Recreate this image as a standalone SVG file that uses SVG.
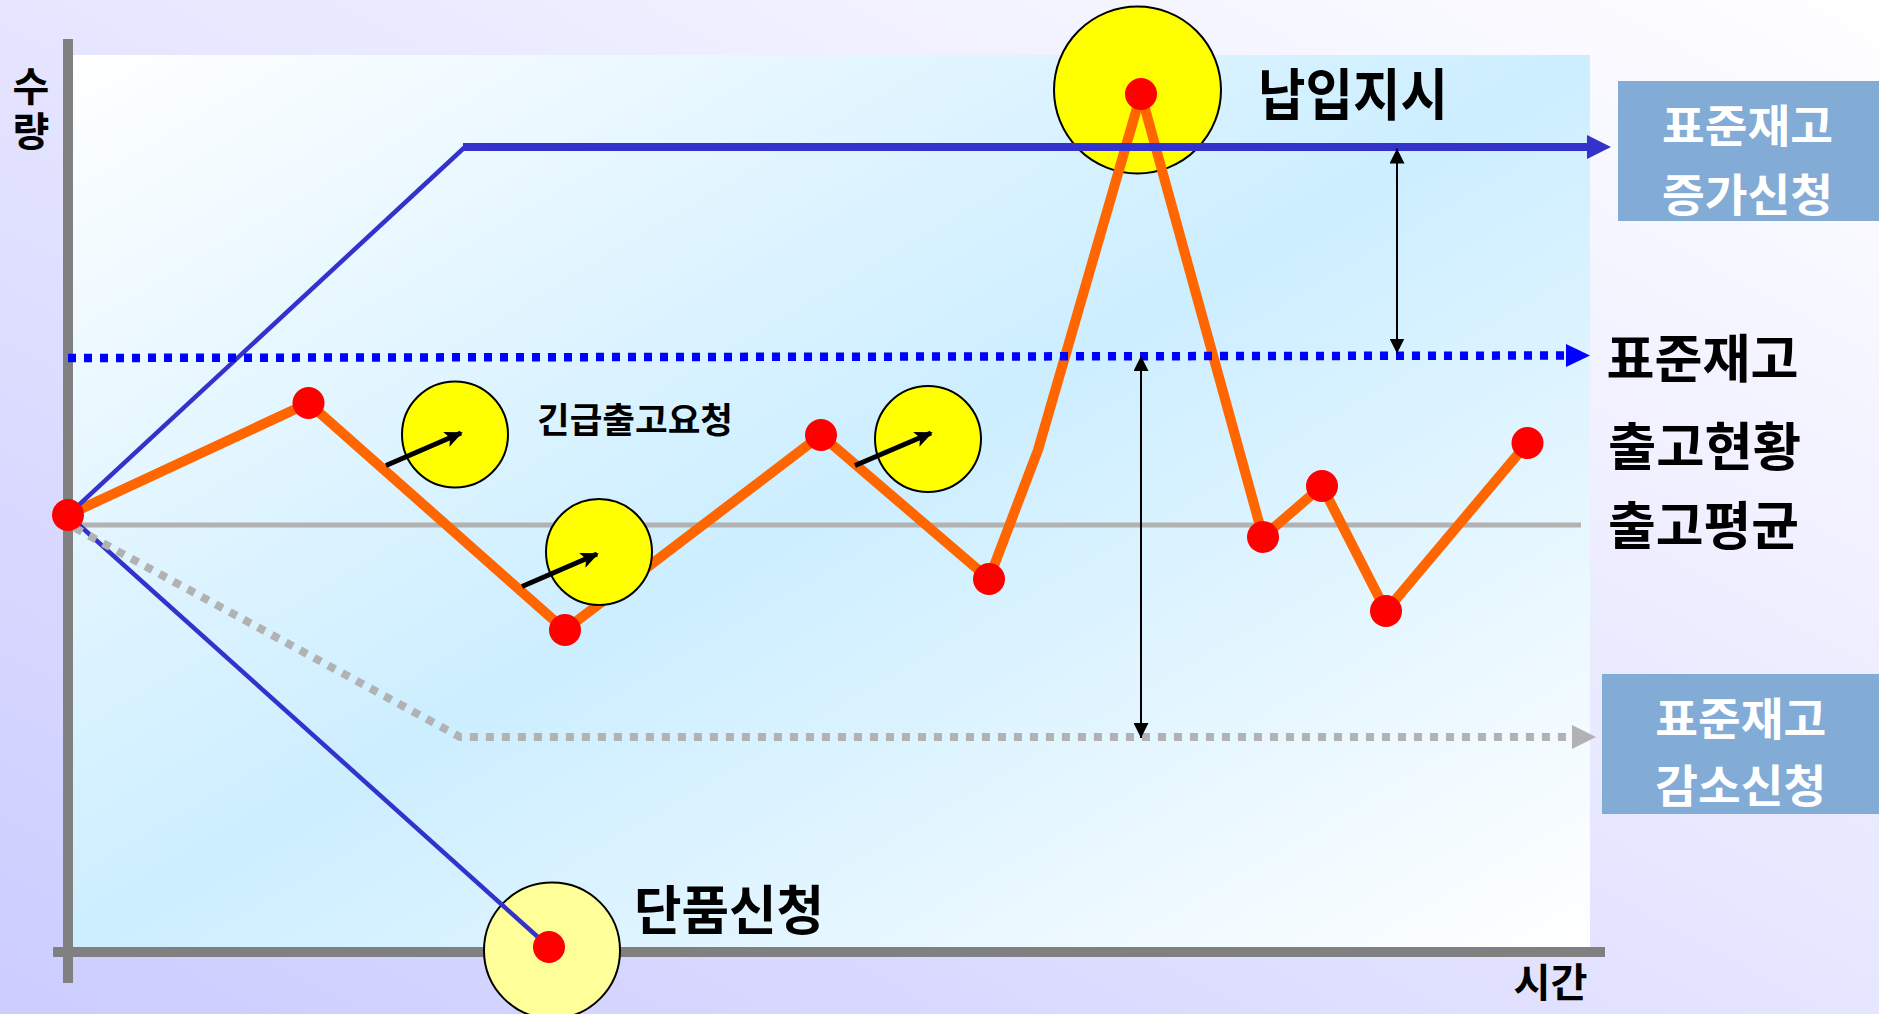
<svg xmlns="http://www.w3.org/2000/svg" width="1879" height="1014" viewBox="0 0 1879 1014">
  <defs>
    <linearGradient id="bgGrad" x1="0" y1="1" x2="1" y2="0">
      <stop offset="0" stop-color="#ccccff"/>
      <stop offset="1" stop-color="#ffffff"/>
    </linearGradient>
    <linearGradient id="plotGrad" x1="0" y1="0" x2="1" y2="1">
      <stop offset="0" stop-color="#ffffff"/>
      <stop offset="0.5" stop-color="#cceeff"/>
      <stop offset="1" stop-color="#ffffff"/>
    </linearGradient>
    <marker id="arrBlue" viewBox="0 0 24 24" refX="8" refY="12" markerWidth="24" markerHeight="24" markerUnits="userSpaceOnUse" orient="auto">
      <path d="M0,0 L24,12 L0,24 z" fill="#3333cc"/>
    </marker>
    <marker id="arrBlueDot" viewBox="0 0 24 24" refX="4" refY="12" markerWidth="24" markerHeight="24" markerUnits="userSpaceOnUse" orient="auto">
      <path d="M0,0.5 L24,12 L0,23.5 z" fill="#0000ff"/>
    </marker>
    <marker id="arrGray" viewBox="0 0 24 24" refX="3" refY="12" markerWidth="24" markerHeight="24" markerUnits="userSpaceOnUse" orient="auto">
      <path d="M0,0 L24,12 L0,24 z" fill="#b2b2b2"/>
    </marker>
    <marker id="arrBlack" viewBox="0 0 18 16" refX="16" refY="8" markerWidth="18" markerHeight="16" markerUnits="userSpaceOnUse" orient="auto">
      <path d="M0,0 L18,8 L0,16 L4,8 z" fill="#000000"/>
    </marker>
    <marker id="arrThin" viewBox="0 0 15 15" refX="15" refY="7.5" markerWidth="15" markerHeight="15" markerUnits="userSpaceOnUse" orient="auto-start-reverse">
      <path d="M0,0 L15,7.5 L0,15 z" fill="#000000"/>
    </marker>
  </defs>
  <style>
    .lbl { font-family: "Noto Sans CJK KR", "Noto Sans", sans-serif; font-weight: bold; fill: #000000; }
    .wlbl { font-family: "Noto Sans CJK KR", "Noto Sans", sans-serif; font-weight: bold; fill: #ffffff; }
    .dot { fill: #ff0000; }
    .yel { fill: #ffff00; stroke: #000000; stroke-width: 2; }
    .box { fill: #82abd6; }
    .axis { stroke: #808080; stroke-width: 10; fill: none; }
  </style>

  <!-- background -->
  <rect x="0" y="0" width="1879" height="1014" fill="url(#bgGrad)"/>
  <rect id="plot-area" x="68" y="55" width="1522" height="892" fill="url(#plotGrad)"/>

  <!-- axes -->
  <g id="axes">
    <line class="axis" x1="68" y1="39" x2="68" y2="983"/>
    <line class="axis" x1="53" y1="952" x2="1605" y2="952"/>
  </g>

  <!-- big yellow circle behind lines -->
  <g id="node-napip-circle">
    <circle class="yel" cx="1137.5" cy="90" r="83.5"/>
  </g>

  <g id="connectors">
    <!-- average line -->
    <line x1="68" y1="525" x2="1581" y2="525" stroke="#b2b2b2" stroke-width="5"/>
    <!-- orange stock line -->
    <polyline points="68,515 308.5,403 565,630 821,435 989,579 1038,450 1141,94 1263,537 1322,486 1386,611 1527.5,443" fill="none" stroke="#ff6600" stroke-width="10" stroke-linejoin="round"/>
  </g>

  <!-- request circles -->
  <g id="node-req1"><circle class="yel" cx="455" cy="434.5" r="53"/></g>
  <g id="node-req2"><circle class="yel" cx="599" cy="552" r="53"/></g>
  <g id="node-req3"><circle class="yel" cx="928" cy="439" r="53"/></g>

  <!-- danpum circle -->
  <g id="node-danpum-circle">
    <circle cx="552" cy="950.5" r="68" fill="#ffff99" stroke="#000000" stroke-width="2"/>
  </g>

  <g id="connectors-lines">
    <!-- blue upper limit line -->
    <line x1="68" y1="515" x2="465" y2="147" stroke="#3333cc" stroke-width="4.5"/>
    <line x1="463" y1="147" x2="1595" y2="147" stroke="#3333cc" stroke-width="8" marker-end="url(#arrBlue)"/>
    <!-- blue line down to danpum -->
    <line x1="68" y1="515" x2="549" y2="947" stroke="#3333cc" stroke-width="4.5"/>
    <!-- standard stock dotted blue -->
    <line x1="68" y1="358" x2="1570" y2="355.5" stroke="#0000ff" stroke-width="8.5" stroke-dasharray="8 8" marker-end="url(#arrBlueDot)"/>
    <!-- lower gray dotted -->
    <polyline points="75,528 460,737 1575,737" fill="none" stroke="#b2b2b2" stroke-width="8" stroke-dasharray="8 8" marker-end="url(#arrGray)"/>
    <!-- request arrows -->
    <line x1="386" y1="465.5" x2="461" y2="433" stroke="#000000" stroke-width="5" marker-end="url(#arrBlack)"/>
    <line x1="522" y1="586.5" x2="597" y2="554" stroke="#000000" stroke-width="5" marker-end="url(#arrBlack)"/>
    <line x1="855" y1="465.5" x2="931" y2="433" stroke="#000000" stroke-width="5" marker-end="url(#arrBlack)"/>
    <!-- range arrows -->
    <line x1="1397" y1="148.5" x2="1397" y2="353.5" stroke="#000000" stroke-width="2" marker-start="url(#arrThin)" marker-end="url(#arrThin)"/>
    <line x1="1141" y1="356" x2="1141" y2="738" stroke="#000000" stroke-width="2" marker-start="url(#arrThin)" marker-end="url(#arrThin)"/>
  </g>

  <!-- red points -->
  <g id="points">
    <circle class="dot" cx="68" cy="515" r="16"/>
    <circle class="dot" cx="308.5" cy="403" r="16"/>
    <circle class="dot" cx="565" cy="630" r="16"/>
    <circle class="dot" cx="821" cy="435" r="16"/>
    <circle class="dot" cx="989" cy="579" r="16"/>
    <circle class="dot" cx="1141" cy="94" r="16"/>
    <circle class="dot" cx="1263" cy="537" r="16"/>
    <circle class="dot" cx="1322" cy="486" r="16"/>
    <circle class="dot" cx="1386" cy="611" r="16"/>
    <circle class="dot" cx="1527.5" cy="443" r="16"/>
    <circle class="dot" cx="549" cy="947" r="16"/>
  </g>

  <!-- labels -->
  <g id="label-yaxis">
    <text class="lbl" font-size="40" text-anchor="middle"><tspan x="31" y="101">수</tspan><tspan x="31" y="146">량</tspan></text>
  </g>
  <g id="label-xaxis">
    <text class="lbl" x="1550.5" y="996.5" font-size="40" text-anchor="middle" textLength="74" lengthAdjust="spacingAndGlyphs">시간</text>
  </g>
  <g id="node-napip">
    <text class="lbl" x="1353" y="114.7" font-size="56" text-anchor="middle" textLength="190" lengthAdjust="spacingAndGlyphs">납입지시</text>
  </g>
  <g id="node-standard">
    <text class="lbl" x="1702.5" y="377.5" font-size="52" text-anchor="middle" textLength="192" lengthAdjust="spacingAndGlyphs">표준재고</text>
  </g>
  <g id="node-outflow">
    <text class="lbl" x="1704.5" y="465.5" font-size="52" text-anchor="middle" textLength="193" lengthAdjust="spacingAndGlyphs">출고현황</text>
  </g>
  <g id="node-average">
    <text class="lbl" x="1703.5" y="545" font-size="52" text-anchor="middle" textLength="191" lengthAdjust="spacingAndGlyphs">출고평균</text>
  </g>
  <g id="node-danpum">
    <text class="lbl" x="729" y="930" font-size="53" text-anchor="middle" textLength="190" lengthAdjust="spacingAndGlyphs">단품신청</text>
  </g>
  <g id="node-urgent">
    <text class="lbl" x="635" y="433" font-size="35" text-anchor="middle" textLength="196" lengthAdjust="spacingAndGlyphs">긴급출고요청</text>
  </g>
  <g id="node-increase">
    <rect class="box" x="1618" y="81" width="261" height="140"/>
    <text class="wlbl" x="1747.5" y="143" font-size="45" text-anchor="middle" textLength="171" lengthAdjust="spacingAndGlyphs">표준재고</text>
    <text class="wlbl" x="1747.5" y="211.5" font-size="45" text-anchor="middle" textLength="171" lengthAdjust="spacingAndGlyphs">증가신청</text>
  </g>
  <g id="node-decrease">
    <rect class="box" x="1602" y="674" width="277" height="140"/>
    <text class="wlbl" x="1740.7" y="736" font-size="45" text-anchor="middle" textLength="171" lengthAdjust="spacingAndGlyphs">표준재고</text>
    <text class="wlbl" x="1740.7" y="803" font-size="45" text-anchor="middle" textLength="171" lengthAdjust="spacingAndGlyphs">감소신청</text>
  </g>
</svg>
